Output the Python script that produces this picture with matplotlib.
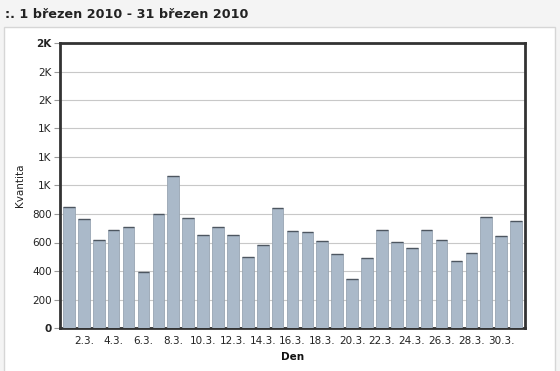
import matplotlib.pyplot as plt
from matplotlib.patches import Rectangle

plt.rcParams.update({'font.size': 7.5, 'font.family': 'DejaVu Sans'})

days = list(range(1, 32))
counts = [849, 767, 620, 690, 709, 393, 798, 1069, 770, 650,
          709, 653, 496, 585, 840, 681, 674, 613, 519, 346,
          491, 688, 604, 561, 688, 615, 473, 526, 779, 646, 749]
tick_days = list(range(2, 31, 2))
tick_labels = ['%d.3.' % d for d in tick_days]
y_ticks = list(range(0, 2001, 200))

title = ':. 1 březen 2010 - 31 březen 2010'

fig = plt.figure(figsize=(5.6, 3.71), dpi=100, facecolor='#f4f4f4')

# white panel behind the chart
panel = Rectangle((4 / 560, -0.05), 551 / 560, 1.05 - 27 / 371,
                  transform=fig.transFigure, facecolor='white',
                  edgecolor='#d6d6d6', linewidth=1, zorder=-5)
fig.patches.append(panel)

fig.text(5 / 560, 1 - 14 / 371, title, fontsize=9.2, fontweight='bold',
         color='#222222', va='center', ha='left')

ax = fig.add_axes([60 / 560, 43 / 371, 465 / 560, 285 / 371])
ax.set_zorder(2)
ax.set_facecolor('white')

bw = 0.78
ax.bar(days, counts, width=bw, color='#aab9c9', edgecolor='#98a5b2',
       linewidth=0.6, zorder=3)
# darker cap on each bar
ax.hlines(counts, [d - bw / 2 for d in days], [d + bw / 2 for d in days],
          colors='#4d5660', linewidth=1.0, zorder=4)

ax.set_xlim(0.4, 31.6)
ax.set_ylim(0, 2000)


def kfmt(v):
    if v >= 1000:
        return '%dK' % int(v / 1000 + 0.5)
    return '%d' % v


ax.set_yticks(y_ticks)
ax.set_yticklabels([kfmt(v) for v in y_ticks])
ylabels = ax.get_yticklabels()
ylabels[0].set_fontweight('bold')
ylabels[-1].set_fontweight('bold')
ax.set_xticks(tick_days)
ax.set_xticklabels(tick_labels)
ax.tick_params(axis='x', length=0, pad=6, colors='#222222')
ax.tick_params(axis='y', length=4, width=0.8, color='#999999', pad=2,
               labelcolor='#222222')

ax.grid(axis='y', color='#c8c8c8', linewidth=0.8, zorder=0)
ax.set_axisbelow(True)

for s in ax.spines.values():
    s.set_color('#333333')
    s.set_linewidth(2)

ax.set_ylabel('Kvantita', labelpad=5, color='#222222')
ax.set_xlabel('Den', fontweight='bold', labelpad=4, color='#111111')

fig.savefig('out.png', dpi=100, facecolor=fig.get_facecolor())
